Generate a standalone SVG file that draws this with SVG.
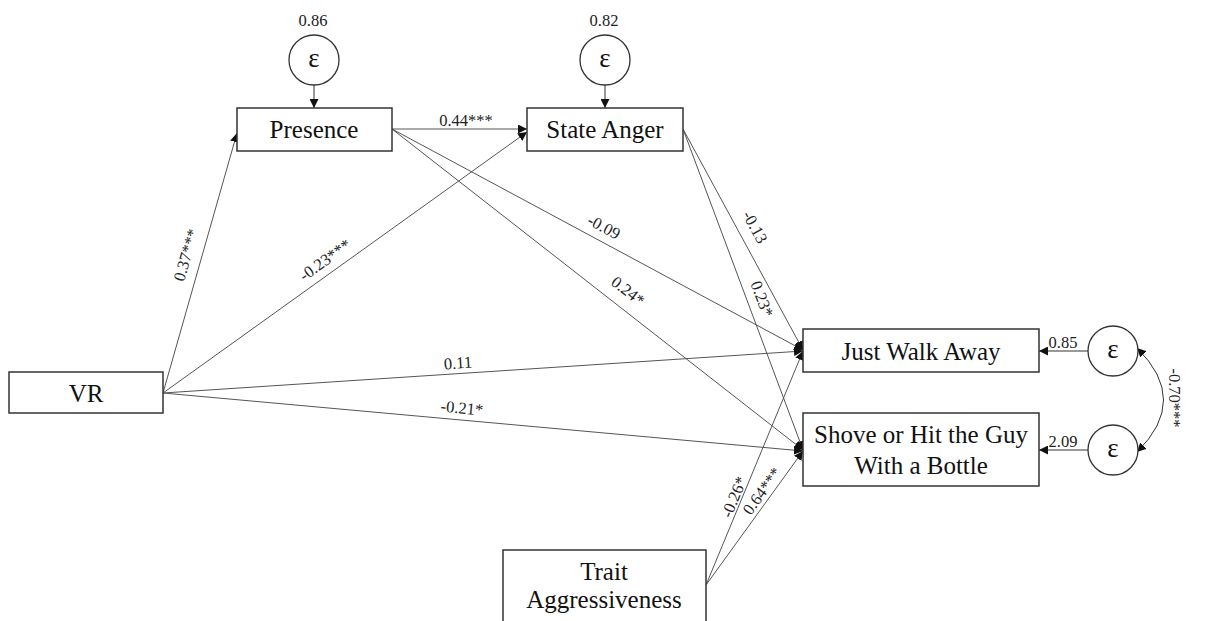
<svg xmlns="http://www.w3.org/2000/svg" width="1208" height="621" viewBox="0 0 1208 621">
<defs>
<marker id="ah" viewBox="0 0 10 10" refX="10" refY="5" markerWidth="9" markerHeight="9" markerUnits="userSpaceOnUse" orient="auto-start-reverse">
<path d="M0,0 L10,5 L0,10 z" fill="#111"/>
</marker>
<style>
.box{fill:#fff;stroke:#333;stroke-width:1.5}
.eps{fill:#fff;stroke:#333;stroke-width:1.3}
.nt{font-family:"Liberation Serif","Times New Roman",serif;font-size:25px;fill:#111;text-anchor:middle}
.et{font-family:"Liberation Serif","Times New Roman",serif;font-size:27px;fill:#111;text-anchor:middle;dominant-baseline:central}
.lb{font-family:"Liberation Serif","Times New Roman",serif;font-size:16.5px;fill:#222;text-anchor:middle;dominant-baseline:central}
.c{stroke:#555;stroke-width:1;fill:none;marker-end:url(#ah)}
.ce{stroke:#333;stroke-width:1;fill:none;marker-end:url(#ah)}
</style>
</defs>
<rect width="1208" height="621" fill="#fff"/>
<g id="connectors">
<line class="c" x1="163" y1="393" x2="237" y2="133"/>
<line class="c" x1="163" y1="393" x2="527" y2="132"/>
<line class="c" x1="392" y1="129" x2="527" y2="129"/>
<line class="c" x1="392" y1="129" x2="803" y2="350"/>
<line class="c" x1="392" y1="129" x2="803" y2="450"/>
<line class="c" x1="683" y1="129" x2="803" y2="350"/>
<line class="c" x1="683" y1="129" x2="803" y2="450"/>
<line class="c" x1="163" y1="393" x2="803" y2="351"/>
<line class="c" x1="163" y1="393" x2="803" y2="451"/>
<line class="c" x1="706" y1="585" x2="803" y2="351"/>
<line class="c" x1="706" y1="585" x2="803" y2="451"/>
<line class="ce" x1="314" y1="85" x2="314" y2="108"/>
<line class="ce" x1="605" y1="85" x2="605" y2="108"/>
<line class="ce" x1="1088" y1="351" x2="1039" y2="351"/>
<line class="ce" x1="1088" y1="450" x2="1039" y2="450"/>
<path class="ce" d="M1137,348 Q1190,400 1137,452" marker-start="url(#ah)"/>
<text class="lb" x="466" y="120">0.44***</text>
<text class="lb" x="186" y="255" transform="rotate(-74 186 255)">0.37***</text>
<text class="lb" x="325" y="260" transform="rotate(-35.6 325 260)">-0.23***</text>
<text class="lb" x="604" y="227" transform="rotate(28.3 604 227)">-0.09</text>
<text class="lb" x="628" y="291" transform="rotate(38 628 291)">0.24*</text>
<text class="lb" x="755" y="227" transform="rotate(61.5 755 227)">-0.13</text>
<text class="lb" x="762" y="299" transform="rotate(69.5 762 299)">0.23*</text>
<text class="lb" x="458" y="363" transform="rotate(-3.8 458 363)">0.11</text>
<text class="lb" x="462" y="408" transform="rotate(5.1 462 408)">-0.21*</text>
<text class="lb" x="734" y="497" transform="rotate(-67.6 734 497)">-0.26*</text>
<text class="lb" x="762" y="491" transform="rotate(-54 762 491)">0.64***</text>
<text class="lb" x="1174" y="398" transform="rotate(90 1174 398)">-0.70***</text>
<text class="lb" x="1063" y="342">0.85</text>
<text class="lb" x="1063" y="441">2.09</text>
<text class="lb" x="313" y="20">0.86</text>
<text class="lb" x="604" y="20">0.82</text>
</g>
<g id="presence">
<rect class="box" x="237" y="108" width="155" height="43"/>
<text class="nt" x="314" y="138">Presence</text>
</g>
<g id="stateanger">
<rect class="box" x="527" y="108" width="156" height="43"/>
<text class="nt" x="605" y="138">State Anger</text>
</g>
<g id="vr">
<rect class="box" x="9" y="372" width="154" height="41"/>
<text class="nt" x="86" y="402">VR</text>
</g>
<g id="justwalkaway">
<rect class="box" x="803" y="329" width="236" height="43"/>
<text class="nt" x="921" y="360">Just Walk Away</text>
</g>
<g id="shove">
<rect class="box" x="803" y="413" width="236" height="73"/>
<text class="nt" x="921" y="443">Shove or Hit the Guy</text>
<text class="nt" x="921" y="474">With a Bottle</text>
</g>
<g id="trait">
<rect class="box" x="503" y="550" width="203" height="90"/>
<text class="nt" x="604" y="580">Trait</text>
<text class="nt" x="604" y="608">Aggressiveness</text>
</g>
<g id="eps-presence">
<circle class="eps" cx="314" cy="60" r="25"/>
<text class="et" x="314" y="58">ε</text>
</g>
<g id="eps-anger">
<circle class="eps" cx="605" cy="60" r="25"/>
<text class="et" x="605" y="58">ε</text>
</g>
<g id="eps-walk">
<circle class="eps" cx="1113" cy="351" r="25"/>
<text class="et" x="1113" y="349">ε</text>
</g>
<g id="eps-shove">
<circle class="eps" cx="1113" cy="450" r="25"/>
<text class="et" x="1113" y="448">ε</text>
</g>
</svg>
